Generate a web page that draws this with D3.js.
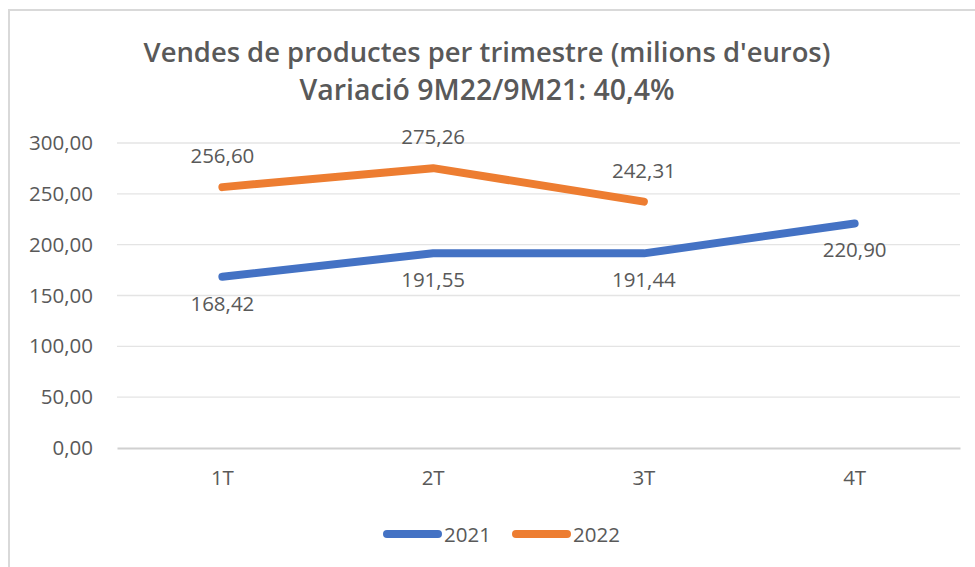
<!DOCTYPE html>
<html>
<head>
<meta charset="utf-8">
<script src="https://cdn.jsdelivr.net/npm/d3@7"></script>
<style>
  html, body { margin: 0; padding: 0; background: #fff; }
  svg { display: block; }
  text { font-family: "Open Sans", "Noto Sans", sans-serif; fill: #595959; }
</style>
</head>
<body>
<svg id="chart"></svg>
<script>
// data
const quarters = ['1T', '2T', '3T', '4T'];
const sales2021 = [168.42, 191.55, 191.44, 220.90];
const sales2022 = [256.60, 275.26, 242.31];
const seriesNames = ['2021', '2022'];
const yTicks = [0, 50, 100, 150, 200, 250, 300];
const titleLines = ["Vendes de productes per trimestre (milions d'euros)", "Variació 9M22/9M21: 40,4%"];

const colors = ['#4472C4', '#ED7D31'];
const fmt = v => d3.format('.2f')(v).replace('.', ',');

const W = 975, H = 567;
const margin = {top: 143, right: 15, bottom: 119, left: 117};
const width = W - margin.left - margin.right;
const height = H - margin.top - margin.bottom;
const fs = '20.5px';

const svg = d3.select('#chart').attr('width', W).attr('height', H);

// chart frame (top and left edges are what is visible)
svg.append('line').attr('x1', 8).attr('x2', W).attr('y1', 10).attr('y2', 10)
  .attr('stroke', '#d9d9d9').attr('stroke-width', 2);
svg.append('line').attr('x1', 9).attr('x2', 9).attr('y1', 10).attr('y2', H)
  .attr('stroke', '#d9d9d9').attr('stroke-width', 2);

// title, fitted to the widths seen in the picture
const titleWidths = [687, 375];
const titleY = [62, 100];
titleLines.forEach((t, i) => {
  const el = svg.append('text')
    .attr('x', 487).attr('y', titleY[i])
    .attr('text-anchor', 'middle')
    .style('font-weight', 600)
    .style('font-size', '24px')
    .text(t);
  const len = el.node().getComputedTextLength();
  el.style('font-size', (24 * titleWidths[i] / len).toFixed(2) + 'px');
});

const chart = svg.append('g').attr('transform', `translate(${margin.left},${margin.top})`);

const x = d3.scaleBand().domain(quarters).range([0, width]).padding(0);
const y = d3.scaleLinear().domain([0, 300]).range([height, 0]);

// gridlines
chart.append('g')
  .selectAll('line')
  .data(yTicks.filter(d => d > 0))
  .join('line')
    .attr('x1', 0).attr('x2', width)
    .attr('y1', d => y(d)).attr('y2', d => y(d))
    .attr('stroke', '#e4e4e4').attr('stroke-width', 1.3);

// y axis
const yAxis = d3.axisLeft(y).tickValues(yTicks).tickFormat(fmt).tickSize(0).tickPadding(24);
chart.append('g').call(yAxis)
  .call(g => g.select('.domain').remove())
  .call(g => g.selectAll('text').attr('fill', '#595959').style('font-size', fs)
    .style('font-family', '"Open Sans", sans-serif'));

// x axis
const xAxis = d3.axisBottom(x).tickSize(0).tickPadding(22);
chart.append('g').attr('transform', `translate(0,${height})`).call(xAxis)
  .call(g => g.select('.domain').attr('stroke', '#d0d0d0').attr('stroke-width', 2))
  .call(g => g.selectAll('text').attr('fill', '#595959').style('font-size', fs)
    .style('font-family', '"Open Sans", sans-serif'));

// lines
const series = [sales2021, sales2022];
const line = d3.line()
  .x((d, i) => x(quarters[i]) + x.bandwidth() / 2)
  .y(d => y(d));

series.forEach((s, k) => {
  chart.append('path')
    .datum(s)
    .attr('d', line)
    .attr('fill', 'none')
    .attr('stroke', colors[k])
    .attr('stroke-width', 8)
    .attr('stroke-linecap', 'round')
    .attr('stroke-linejoin', 'round');
});

// data labels: 2021 below, 2022 above
chart.append('g')
  .selectAll('text')
  .data(sales2021)
  .join('text')
    .attr('x', (d, i) => x(quarters[i]) + x.bandwidth() / 2)
    .attr('y', d => y(d) + 34)
    .attr('text-anchor', 'middle')
    .style('font-size', fs)
    .text(fmt);

chart.append('g')
  .selectAll('text')
  .data(sales2022)
  .join('text')
    .attr('x', (d, i) => x(quarters[i]) + x.bandwidth() / 2)
    .attr('y', d => y(d) - 24)
    .attr('text-anchor', 'middle')
    .style('font-size', fs)
    .text(fmt);

// legend
const legendX = [383, 512];
const legend = svg.append('g').attr('transform', 'translate(0,534)');
seriesNames.forEach((name, k) => {
  legend.append('line')
    .attr('x1', legendX[k] + 4).attr('x2', legendX[k] + 55)
    .attr('y1', 0).attr('y2', 0)
    .attr('stroke', colors[k]).attr('stroke-width', 8).attr('stroke-linecap', 'round');
  legend.append('text')
    .attr('x', legendX[k] + 61).attr('y', 8)
    .style('font-size', fs)
    .text(name);
});
</script>
</body>
</html>
